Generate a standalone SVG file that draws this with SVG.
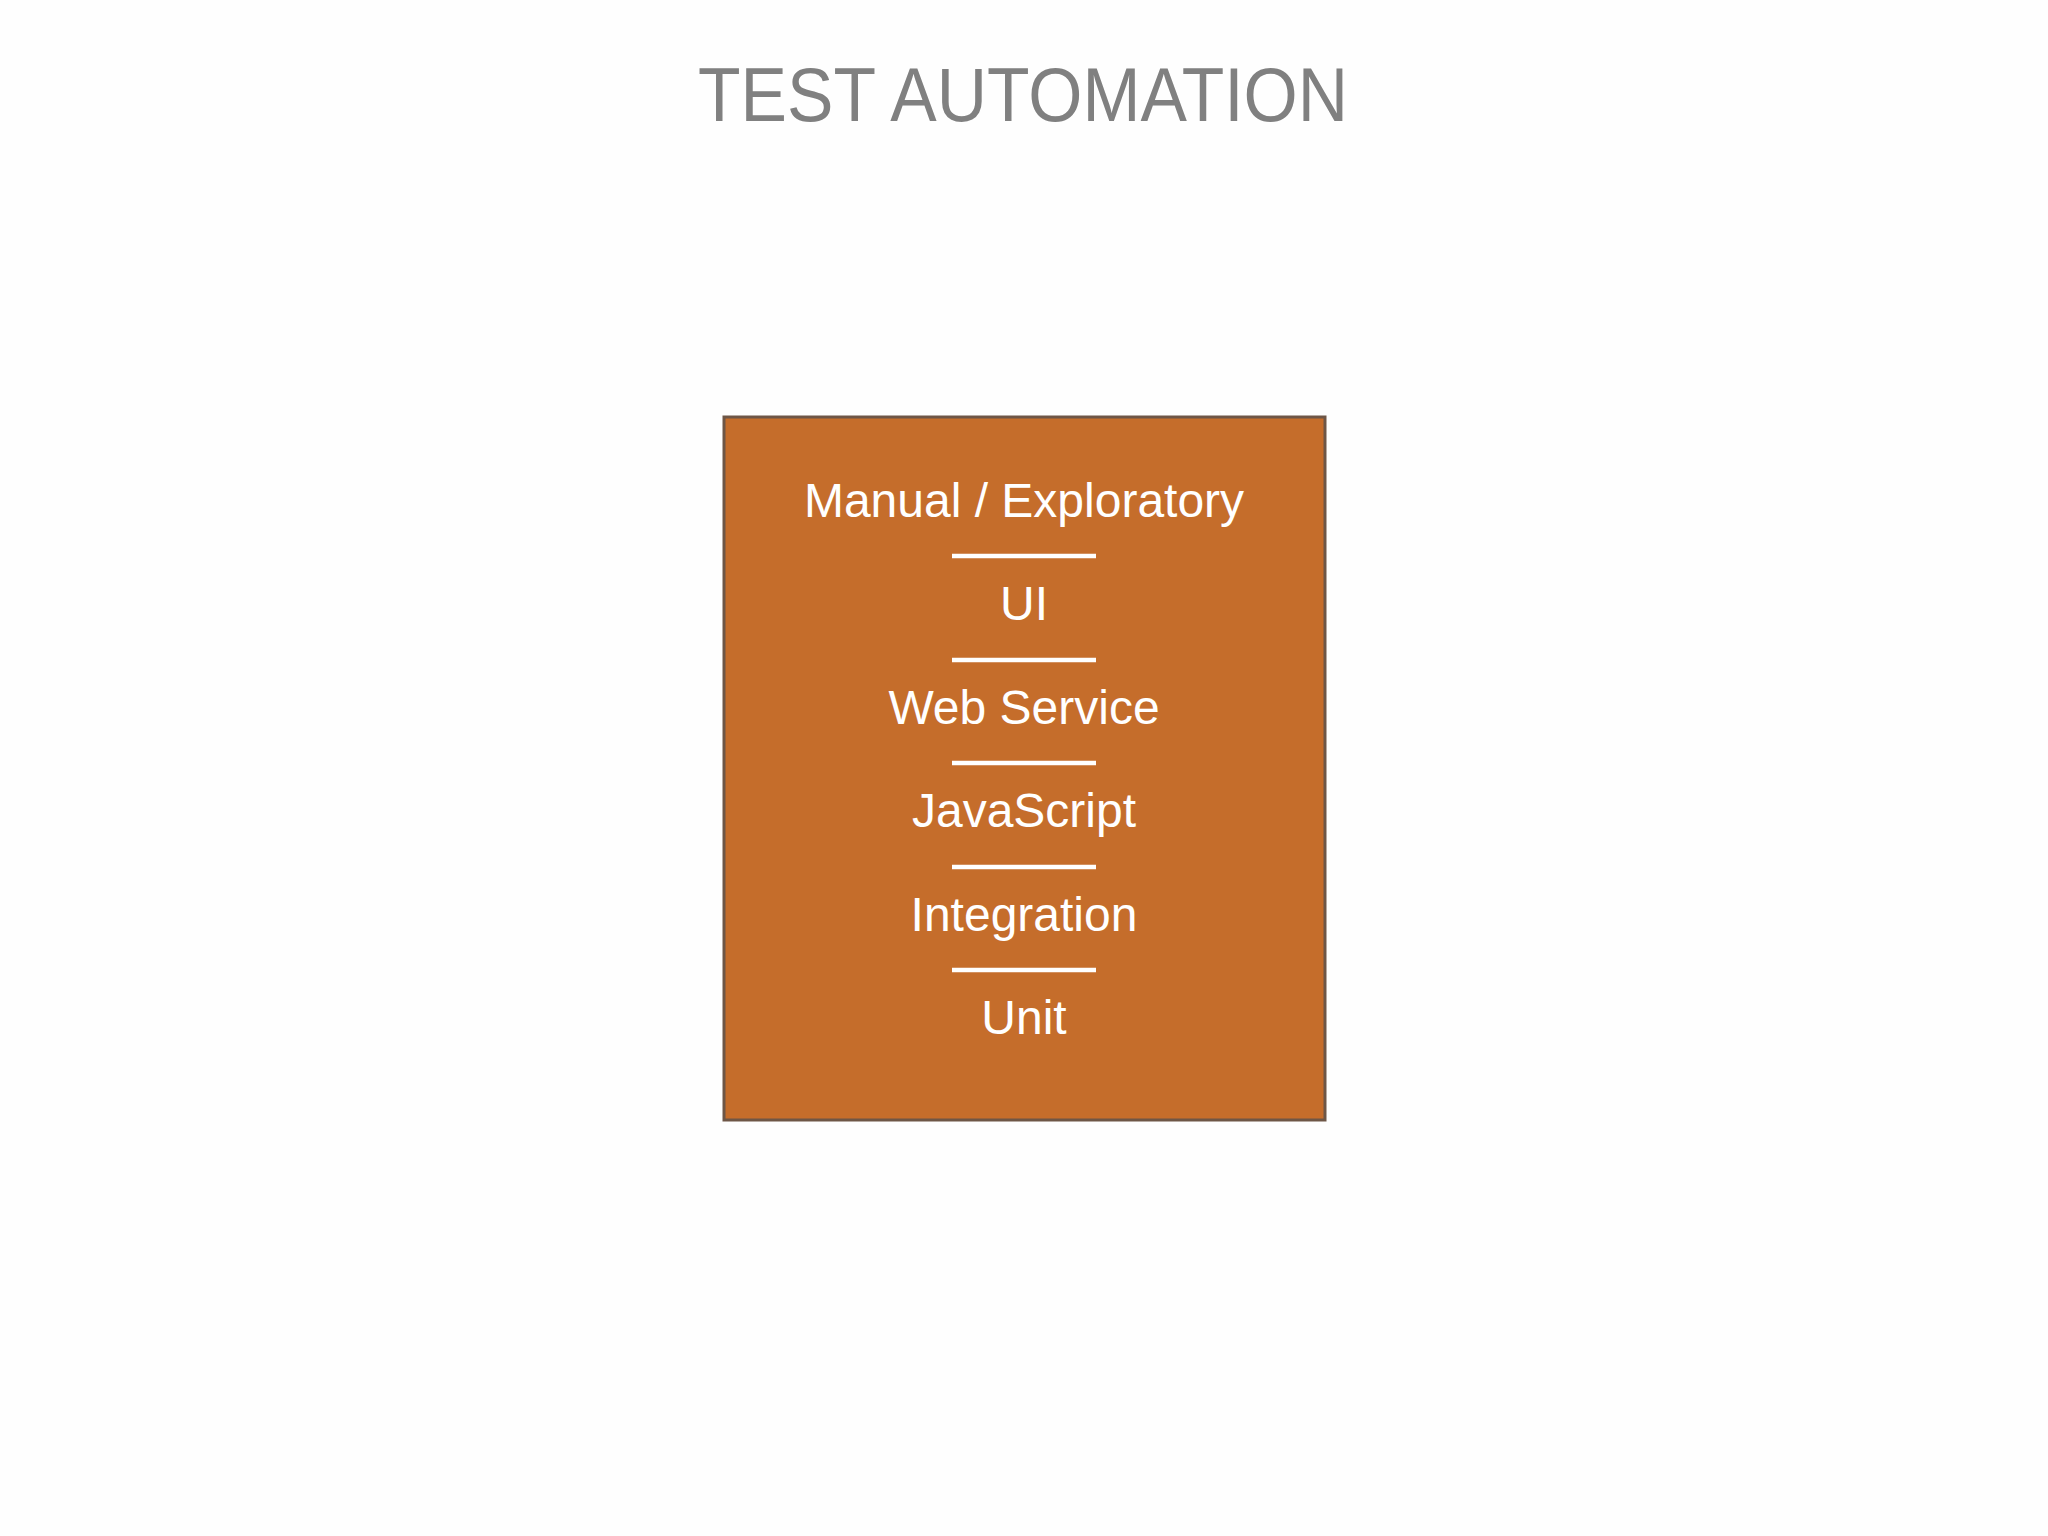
<svg xmlns="http://www.w3.org/2000/svg" width="2048" height="1536" viewBox="0 0 2048 1536">
<style>
.title{font-family:"Liberation Sans",Arial,sans-serif;font-size:76px;fill:#808080;text-anchor:middle}
.lbl{font-family:"Liberation Sans",Arial,sans-serif;font-size:48px;fill:#FFFFFF;text-anchor:middle}
.sep{stroke:#FFFFFF;stroke-width:4.5}
</style>
<rect width="2048" height="1536" fill="#FEFEFE"/>
<text class="title" x="1023" y="121" textLength="650" lengthAdjust="spacingAndGlyphs">TEST AUTOMATION</text>
<g id="box">
<rect x="724" y="417" width="601" height="703" fill="#C56D2B" stroke="#6E5646" stroke-width="3"/>
<text class="lbl" x="1024" y="517">Manual / Exploratory</text>
<text class="lbl" x="1024" y="620">UI</text>
<text class="lbl" x="1024" y="724">Web Service</text>
<text class="lbl" x="1024" y="827">JavaScript</text>
<text class="lbl" x="1024" y="931">Integration</text>
<text class="lbl" x="1024" y="1034">Unit</text>
</g>
<g id="connectors">
<line class="sep" x1="952" y1="556" x2="1096" y2="556"/>
<line class="sep" x1="952" y1="660" x2="1096" y2="660"/>
<line class="sep" x1="952" y1="763" x2="1096" y2="763"/>
<line class="sep" x1="952" y1="867" x2="1096" y2="867"/>
<line class="sep" x1="952" y1="970" x2="1096" y2="970"/>
</g>
</svg>
